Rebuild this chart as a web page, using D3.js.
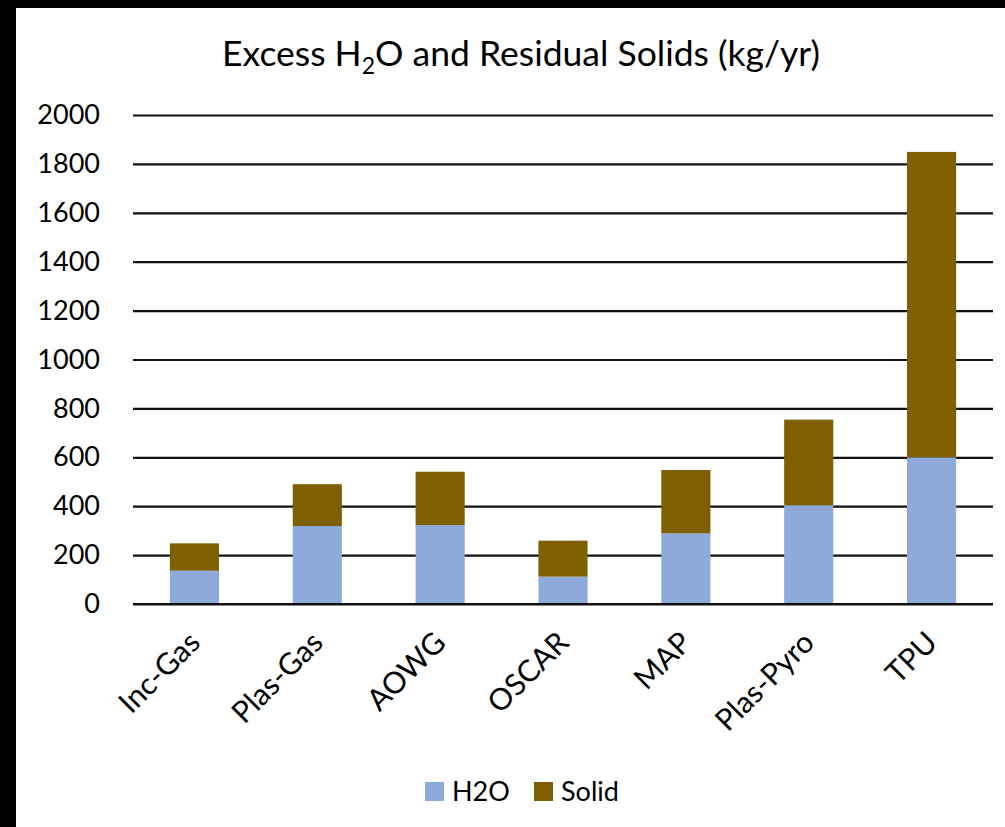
<!DOCTYPE html>
<html>
<head>
<meta charset="utf-8">
<script src="https://cdn.jsdelivr.net/npm/d3@7"></script>
<style>
  html, body { margin: 0; padding: 0; background: #000; }
  svg { display: block; }
  text { font-family: Lato, "Open Sans", sans-serif; fill: #000; }
</style>
</head>
<body>
<svg id="chart" width="1005" height="827"></svg>
<script>
const categories = ["Inc-Gas", "Plas-Gas", "AOWG", "OSCAR", "MAP", "Plas-Pyro", "TPU"];
const h2oValues   = [136, 319, 323, 112, 289, 404, 600];
const solidValues = [112, 171, 218, 147, 259, 350, 1249];
const seriesNames = ["H2O", "Solid"];
const seriesColors = ["#8EAADB", "#7F6000"];
const yTicks = [0, 200, 400, 600, 800, 1000, 1200, 1400, 1600, 1800, 2000];

const svg = d3.select("#chart");
// white panel on black background
svg.append("rect").attr("x", 16).attr("y", 8).attr("width", 989).attr("height", 819).attr("fill", "#fff");

const margin = { left: 133, right: 12, top: 115, bottom: 223 };
const W = 1005, H = 827;
const x = d3.scaleBand().domain(categories).range([margin.left, W - margin.right]).paddingInner(0.6).paddingOuter(0.3);
const y = d3.scaleLinear().domain([0, 2000]).range([H - margin.bottom, margin.top]);

// gridlines
const yAxis = d3.axisLeft(y).tickValues(yTicks).tickSize(-(W - margin.right - margin.left)).tickFormat(d => d).tickPadding(33);
const gy = svg.append("g").attr("transform", `translate(${margin.left},0)`).call(yAxis);
gy.select(".domain").remove();
gy.selectAll(".tick line").attr("stroke", "#111").attr("stroke-width", 2.2);
gy.selectAll(".tick text").attr("font-size", 27).attr("font-family", "Lato, sans-serif").attr("fill", "#000");

// stacked data
const data = categories.map((c, i) => ({ cat: c, H2O: h2oValues[i], Solid: solidValues[i] }));
const stack = d3.stack().keys(seriesNames)(data);
const color = d3.scaleOrdinal().domain(seriesNames).range(seriesColors);

svg.append("g").selectAll("g").data(stack).join("g")
  .attr("fill", d => color(d.key))
  .selectAll("rect").data(d => d).join("rect")
  .attr("x", d => x(d.data.cat))
  .attr("width", x.bandwidth())
  .attr("y", d => y(d[1]))
  .attr("height", d => y(d[0]) - y(d[1]));

// redraw zero line on top
svg.append("line").attr("x1", margin.left).attr("x2", W - margin.right)
  .attr("y1", y(0)).attr("y2", y(0)).attr("stroke", "#111").attr("stroke-width", 2.2);

// x labels
const xAxis = d3.axisBottom(x).tickSize(0).tickPadding(0);
const gx = svg.append("g").attr("transform", `translate(0,${y(0)})`).call(xAxis);
gx.select(".domain").remove();
gx.selectAll(".tick text")
  .attr("font-size", 30).attr("font-family", "Lato, sans-serif").attr("fill", "#000")
  .attr("text-anchor", "end")
  .attr("transform", "translate(0,33) rotate(-45)")
  .attr("dy", "0.35em");

// title
const title = svg.append("text").attr("x", 521).attr("y", 66).attr("text-anchor", "middle").attr("font-size", 35.5);
title.append("tspan").text("Excess H");
title.append("tspan").text("2").attr("font-size", 23).attr("dy", 8);
title.append("tspan").text("O and Residual Solids (kg/yr)").attr("dy", -8);

// legend
const legend = svg.append("g").attr("transform", "translate(425,782)");
const lx = [0, 109];
seriesNames.forEach((s, i) => {
  const g = legend.append("g").attr("transform", `translate(${lx[i]},0)`);
  g.append("rect").attr("width", 19).attr("height", 19).attr("fill", seriesColors[i]);
  g.append("text").attr("x", 27).attr("y", 10).attr("dy", "0.35em").attr("font-size", 27).text(s);
});
</script>
</body>
</html>
